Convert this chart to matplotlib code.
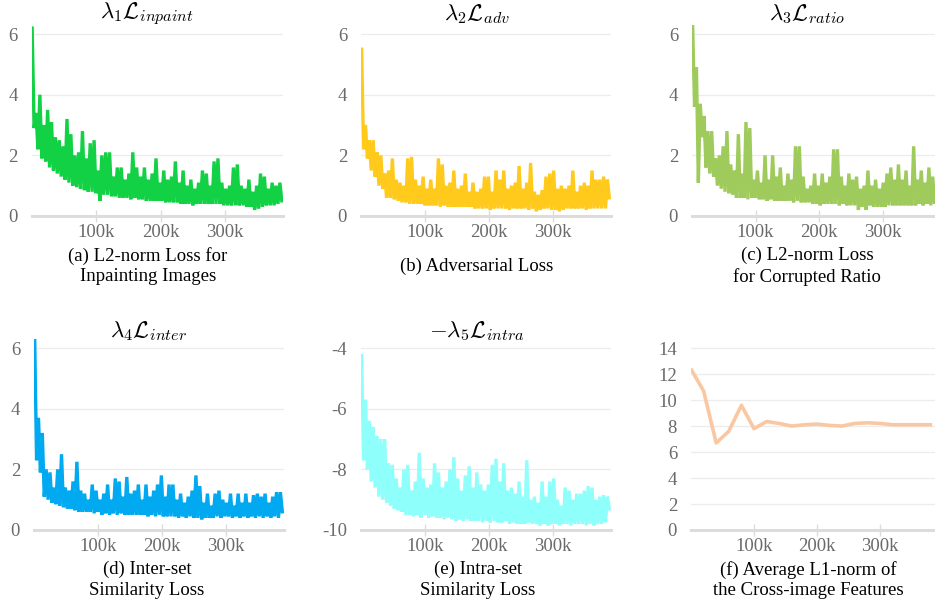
import matplotlib
matplotlib.use("Agg")
import matplotlib.pyplot as plt

plt.rcParams['font.family'] = ['Liberation Serif', 'DejaVu Serif']
plt.rcParams['mathtext.fontset'] = 'cm'
plt.rcParams['axes.unicode_minus'] = False

# training steps (in thousands) for the loss curves
steps_k = list(range(1, 390, 3))

loss_inpaint = [
    6.2, 2.9, 3.4, 2.2, 4.0, 1.9, 3.0, 1.8, 3.5, 1.6,
    3.1, 1.5, 2.6, 1.4, 2.5, 1.3, 2.3, 1.2, 3.2, 1.1,
    2.7, 1.0, 2.0, 0.95, 2.1, 0.9, 2.8, 0.85, 1.9, 0.8,
    2.4, 0.8, 2.5, 0.75, 1.5, 0.5, 2.0, 0.7, 2.1, 0.7,
    2.1, 0.65, 1.3, 0.65, 1.6, 0.6, 1.6, 0.6, 1.2, 0.6,
    1.4, 0.55, 2.1, 0.6, 1.6, 0.55, 1.3, 0.55, 1.6, 0.5,
    1.2, 0.5, 1.4, 0.5, 1.9, 0.5, 1.1, 0.5, 1.5, 0.45,
    1.2, 0.45, 1.3, 0.45, 1.8, 0.45, 1.1, 0.4, 1.5, 0.4,
    1.0, 0.4, 1.2, 0.35, 0.9, 0.4, 1.1, 0.4, 1.5, 0.4,
    1.4, 0.4, 1.0, 0.4, 1.8, 0.4, 1.9, 0.4, 1.1, 0.35,
    0.9, 0.35, 1.0, 0.35, 1.6, 0.35, 1.7, 0.35, 1.0, 0.35,
    0.9, 0.3, 1.2, 0.3, 0.8, 0.2, 1.0, 0.25, 1.4, 0.3,
    1.3, 0.35, 0.9, 0.35, 1.1, 0.35, 1.0, 0.4, 1.1, 0.5,
]

loss_adv = [
    5.5, 2.2, 3.0, 1.9, 2.5, 1.5, 2.5, 1.3, 2.1, 1.0,
    2.0, 0.9, 1.4, 0.6, 1.5, 0.6, 1.9, 0.55, 1.2, 0.5,
    1.1, 0.45, 1.0, 0.45, 1.9, 0.4, 1.95, 0.4, 1.2, 0.4,
    1.0, 0.4, 1.3, 0.35, 0.9, 0.35, 1.2, 0.35, 0.9, 0.35,
    1.9, 0.3, 1.7, 0.35, 1.0, 0.3, 1.1, 0.3, 1.5, 0.3,
    0.9, 0.3, 1.0, 0.3, 1.4, 0.3, 0.8, 0.3, 1.1, 0.25,
    0.8, 0.25, 0.9, 0.25, 1.3, 0.25, 1.3, 0.2, 0.8, 0.25,
    1.5, 0.25, 1.2, 0.25, 1.5, 0.25, 0.9, 0.2, 1.0, 0.25,
    1.1, 0.25, 1.65, 0.25, 0.9, 0.25, 1.1, 0.2, 1.75, 0.25,
    0.8, 0.15, 0.7, 0.2, 0.85, 0.25, 1.3, 0.25, 1.4, 0.2,
    1.5, 0.2, 0.9, 0.15, 1.0, 0.2, 0.9, 0.25, 1.0, 0.25,
    1.5, 0.25, 0.8, 0.25, 1.0, 0.25, 1.1, 0.2, 1.0, 0.25,
    1.5, 0.25, 1.2, 0.25, 1.2, 0.25, 1.3, 0.25, 1.2, 0.6,
]

loss_ratio = [
    6.3, 3.6, 4.9, 1.1, 3.7, 2.6, 3.3, 1.6, 2.8, 1.4,
    2.8, 1.3, 1.9, 1.0, 2.0, 0.9, 2.3, 0.8, 2.8, 0.75,
    1.7, 0.7, 1.5, 0.6, 2.7, 0.6, 1.4, 0.6, 3.1, 0.55,
    2.9, 0.6, 1.2, 0.6, 1.5, 0.55, 1.1, 0.55, 2.0, 0.5,
    1.2, 0.55, 2.0, 0.5, 1.3, 0.5, 1.6, 0.5, 1.0, 0.5,
    1.4, 0.5, 1.2, 0.45, 2.3, 0.5, 2.3, 0.45, 1.3, 0.45,
    0.9, 0.45, 1.0, 0.4, 1.4, 0.4, 1.0, 0.35, 1.4, 0.4,
    1.1, 0.4, 1.3, 0.4, 2.2, 0.4, 2.2, 0.35, 1.3, 0.4,
    1.0, 0.35, 1.4, 0.35, 1.2, 0.35, 1.3, 0.2, 0.9, 0.3,
    1.0, 0.2, 1.5, 0.35, 1.0, 0.3, 1.2, 0.3, 0.9, 0.3,
    1.1, 0.3, 1.4, 0.35, 1.6, 0.35, 1.2, 0.35, 1.7, 0.35,
    1.2, 0.35, 1.5, 0.35, 1.0, 0.35, 2.3, 0.35, 1.2, 0.4,
    1.5, 0.35, 1.1, 0.4, 1.6, 0.35, 1.3, 0.4, 1.2, 0.5,
]

loss_inter = [
    6.4, 2.3, 3.7, 1.9, 3.2, 1.1, 2.0, 1.0, 1.9, 0.9,
    1.4, 0.85, 2.0, 0.8, 2.5, 0.75, 1.4, 0.7, 1.3, 0.7,
    1.6, 0.65, 2.25, 0.6, 1.3, 0.6, 1.2, 0.6, 1.0, 0.6,
    1.5, 0.55, 1.3, 0.6, 1.0, 0.5, 1.2, 0.55, 1.5, 0.5,
    1.0, 0.55, 1.7, 0.5, 1.6, 0.55, 1.1, 0.5, 1.75, 0.5,
    1.2, 0.5, 1.3, 0.5, 1.5, 0.5, 1.0, 0.5, 1.5, 0.45,
    1.1, 0.5, 1.3, 0.45, 1.5, 0.5, 1.8, 0.45, 1.1, 0.45,
    1.5, 0.45, 1.5, 0.45, 1.0, 0.4, 1.2, 0.45, 0.9, 0.4,
    1.1, 0.45, 1.3, 0.4, 1.8, 0.4, 1.45, 0.35, 0.9, 0.4,
    1.2, 0.4, 0.8, 0.4, 1.2, 0.45, 1.3, 0.4, 1.0, 0.45,
    0.9, 0.45, 1.2, 0.4, 0.8, 0.45, 1.2, 0.4, 0.9, 0.45,
    1.2, 0.4, 0.9, 0.45, 1.15, 0.4, 1.2, 0.45, 1.1, 0.4,
    1.2, 0.45, 0.9, 0.4, 1.1, 0.45, 1.25, 0.4, 1.25, 0.6,
]

loss_intra = [
    -4.25, -7.7, -5.7, -8.0, -6.4, -8.4, -6.6, -8.6, -6.9, -8.9,
    -7.0, -9.0, -7.0, -9.1, -7.8, -9.2, -7.85, -9.3, -8.3, -9.35,
    -8.6, -9.4, -8.0, -9.5, -7.85, -9.5, -8.7, -9.55, -8.4, -9.5,
    -7.45, -9.6, -8.3, -9.5, -8.6, -9.6, -8.5, -9.55, -7.8, -9.6,
    -8.1, -9.6, -8.6, -9.65, -8.4, -9.6, -8.0, -9.65, -7.6, -9.7,
    -8.3, -9.65, -8.7, -9.7, -8.2, -9.65, -7.9, -9.7, -8.6, -9.7,
    -8.1, -9.7, -8.5, -9.75, -8.7, -9.7, -8.5, -9.75, -7.85, -9.7,
    -7.65, -9.75, -8.4, -9.75, -7.8, -9.7, -8.7, -9.8, -8.6, -9.75,
    -8.8, -9.8, -8.4, -9.8, -8.9, -9.8, -7.7, -9.75, -9.0, -9.8,
    -8.9, -9.8, -9.1, -9.85, -8.4, -9.8, -8.9, -9.85, -8.4, -9.8,
    -8.3, -9.8, -9.0, -9.85, -9.2, -9.8, -8.6, -9.8, -8.7, -9.85,
    -9.0, -9.8, -8.8, -9.8, -8.8, -9.8, -8.7, -9.85, -8.55, -9.8,
    -8.6, -9.85, -9.0, -9.8, -8.9, -9.8, -8.85, -9.75, -8.9, -9.3,
]

# average L1-norm, sampled every 20k steps
l1_steps_k = [1, 20, 40, 60, 80, 100, 120, 140, 160, 180,
              200, 220, 240, 260, 280, 300, 320, 340, 360, 380]
l1_norm = [12.3, 10.7, 6.7, 7.6, 9.6, 7.8, 8.35, 8.2, 8.0, 8.1,
           8.15, 8.05, 8.0, 8.2, 8.25, 8.2, 8.1, 8.1, 8.1, 8.1]

W, H = 935, 602
fig = plt.figure(figsize=(W / 100, H / 100), dpi=100)


def make_axes(left, zero_y, width, height):
    # pixel box -> figure fraction
    return fig.add_axes([left / W, 1 - zero_y / H, width / W, height / H])


def style(ax, yticks, ylim):
    ax.set_xlim(0, 390)
    ax.set_ylim(*ylim)
    ax.set_xticks([100, 200, 300])
    ax.set_xticklabels(['100k', '200k', '300k'])
    ax.set_yticks(yticks)
    ax.set_yticklabels([str(t) for t in yticks])
    ax.grid(axis='y', color='#ececec', linewidth=0.9)
    ax.set_axisbelow(True)
    for pos in ['right', 'left', 'top']:
        ax.spines[pos].set_visible(False)
    ax.spines['bottom'].set_color('#dcdcdc')
    ax.spines['bottom'].set_linewidth(2.2)
    ax.tick_params(axis='y', length=0, pad=10, labelsize=13.5, labelcolor='#6a6a6a')
    ax.tick_params(axis='x', direction='inout', length=9, width=1, color='#dcdcdc',
                   pad=1, labelsize=13.5, labelcolor='#6a6a6a')


panels = [
    # left, zero_y, width, data, color, yticks, ylim, title, title pos, caption, caption pos
    (31.5, 216, 251.6, loss_inpaint, '#12d145', [0, 2, 4, 6], (0, 6.3),
     r'$\lambda_1\mathcal{L}_{inpaint}$', (147, 14),
     '(a) L2-norm Loss for\nInpainting Images', (148, 266)),
    (361, 216, 249.6, loss_adv, '#ffca1c', [0, 2, 4, 6], (0, 6.3),
     r'$\lambda_2\mathcal{L}_{adv}$', (477, 14),
     '(b) Adversarial Loss', (477, 266)),
    (692, 216, 247.7, loss_ratio, '#9fcb5c', [0, 2, 4, 6], (0, 6.3),
     r'$\lambda_3\mathcal{L}_{ratio}$', (807, 14),
     '(c) L2-norm Loss\nfor Corrupted Ratio', (807, 266)),
    (34, 530, 249.6, loss_inter, '#00a9f0', [0, 2, 4, 6], (0, 6.3),
     r'$\lambda_4\mathcal{L}_{inter}$', (148, 331),
     '(d) Inter-set\nSimilarity Loss', (147, 580)),
    (361, 530, 249.6, loss_intra, '#8efffb', [-10, -8, -6, -4], (-10, -3.7),
     r'$-\lambda_5\mathcal{L}_{intra}$', (477, 331),
     '(e) Intra-set\nSimilarity Loss', (478, 580)),
]

for left, zy, wd, vals, col, yt, yl, title, tpos, cap, cpos in panels:
    ax = make_axes(left, zy, wd, 191)
    ax.plot(steps_k, vals, color=col, linewidth=2.4, solid_joinstyle='miter')
    style(ax, yt, yl)
    fig.text(tpos[0] / W, 1 - tpos[1] / H, title, fontsize=16.5, ha='center', va='center')
    fig.text(cpos[0] / W, 1 - cpos[1] / H, cap, fontsize=13.5, ha='center', va='center',
             linespacing=1.3)

# (f) L1-norm of cross-image features
ax = make_axes(691, 530, 245.7, 191)
ax.plot(l1_steps_k, l1_norm, color='#f9c8a2', linewidth=2.6)
style(ax, [0, 2, 4, 6, 8, 10, 12, 14], (0, 14.7))
fig.text(808 / W, 1 - 580 / H, '(f) Average L1-norm of\nthe Cross-image Features',
         fontsize=13.5, ha='center', va='center', linespacing=1.3)

fig.savefig('out.png', dpi=100)
